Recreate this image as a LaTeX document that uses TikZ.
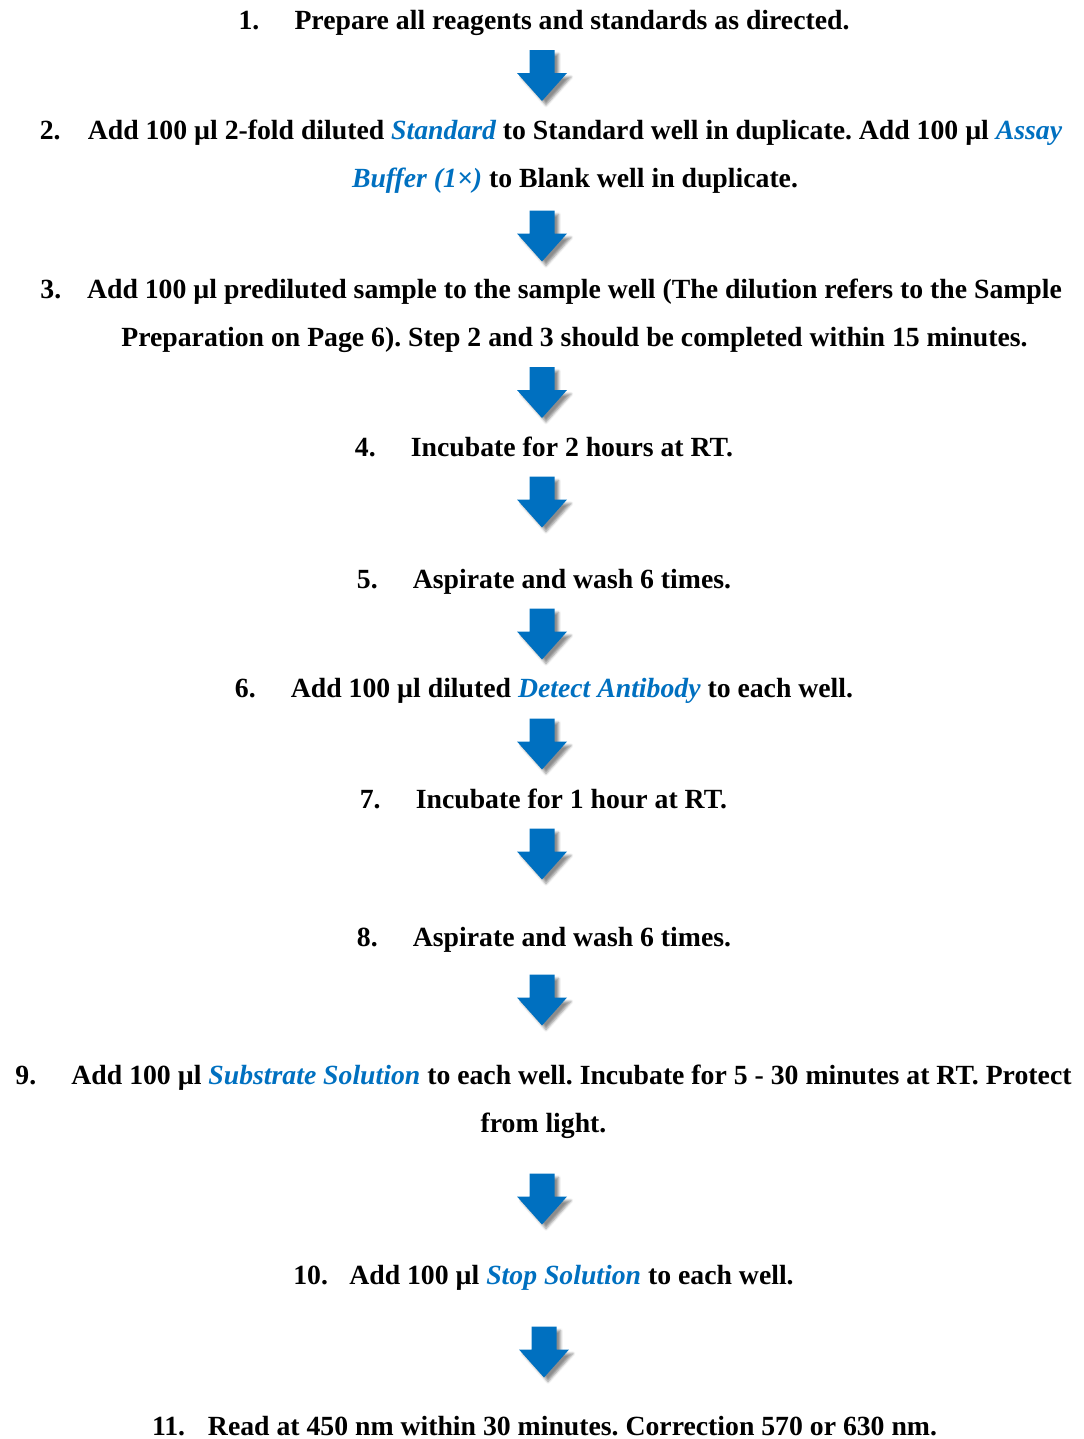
\documentclass[tikz,border=0pt]{standalone}
\usepackage{fontspec}
\usepackage{xcolor}
\usepackage{tikz}
\usetikzlibrary{shadows.blur}
\setmainfont{Liberation Serif}
\frenchspacing
\definecolor{stepblue}{RGB}{0,112,192}
\newcommand{\stepno}[2][42pt]{\makebox[#1][l]{#2}}
\newcommand{\reag}[1]{{\itshape\color{stepblue}#1}}

\begin{document}
\begin{tikzpicture}[x=0.75pt,y=-0.75pt,
  every node/.style={inner sep=0pt,font=\fontsize{20.8}{35.6}\selectfont\bfseries},
  flowarrow/.pic={\fill[stepblue,blur shadow={shadow xshift=3pt,shadow yshift=-3pt,shadow opacity=45}]
    (-12.5,-25.5) -- (12.5,-25.5) -- (12.5,-2.5) -- (25,-2.5) -- (0,25.5) -- (-25,-2.5) -- (-12.5,-2.5) -- cycle;}]
% ELISA assay procedure
\useasboundingbox (0,0) rectangle (1084,1439);
\node[anchor=base] (prep) at (544,29) {\stepno{1.}Prepare all reagents and standards as directed.};
\node[anchor=base,align=center] (std) at (575,187) {\llap{\stepno[36pt]{2.}}Add 100 µl 2-fold diluted \reag{Standard} to Standard well in duplicate. Add 100 µl \reag{Assay}\\\reag{Buffer (1×)} to Blank well in duplicate.};
\node[anchor=base,align=center] (smp) at (574.5,346) {\llap{\stepno[35pt]{3.}}Add 100 µl prediluted sample to the sample well (The dilution refers to the Sample\\Preparation on Page 6). Step 2 and 3 should be completed within 15 minutes.};
\node[anchor=base] (inc1) at (544,456) {\stepno{4.}Incubate for 2 hours at RT.};
\node[anchor=base] (wash1) at (544,588) {\stepno{5.}Aspirate and wash 6 times.};
\node[anchor=base] (det) at (544,697) {\stepno{6.}Add 100 µl diluted \reag{Detect Antibody} to each well.};
\node[anchor=base] (inc2) at (543.5,808) {\stepno{7.}Incubate for 1 hour at RT.};
\node[anchor=base] (wash2) at (544,946) {\stepno{8.}Aspirate and wash 6 times.};
\node[anchor=base,align=center] (sub) at (543.5,1132) {\stepno{9.}Add 100 µl \reag{Substrate Solution} to each well. Incubate for 5 - 30 minutes at RT. Protect\\from light.};
\node[anchor=base] (stop) at (543.5,1284) {\stepno{10.}Add 100 µl \reag{Stop Solution} to each well.};
\node[anchor=base] (read) at (544.5,1435) {\stepno{11.}Read at 450 nm within 30 minutes. Correction 570 or 630 nm.};

\pic (a1) at (542,75.5) {flowarrow};
\pic (a2) at (542,236) {flowarrow};
\pic (a3) at (542,392.5) {flowarrow};
\pic (a4) at (542,502) {flowarrow};
\pic (a5) at (542,634) {flowarrow};
\pic (a6) at (542,744) {flowarrow};
\pic (a7) at (542,854) {flowarrow};
\pic (a8) at (542,1000) {flowarrow};
\pic (a9) at (542,1199) {flowarrow};
\pic (a10) at (544,1352) {flowarrow};
\end{tikzpicture}
\end{document}
